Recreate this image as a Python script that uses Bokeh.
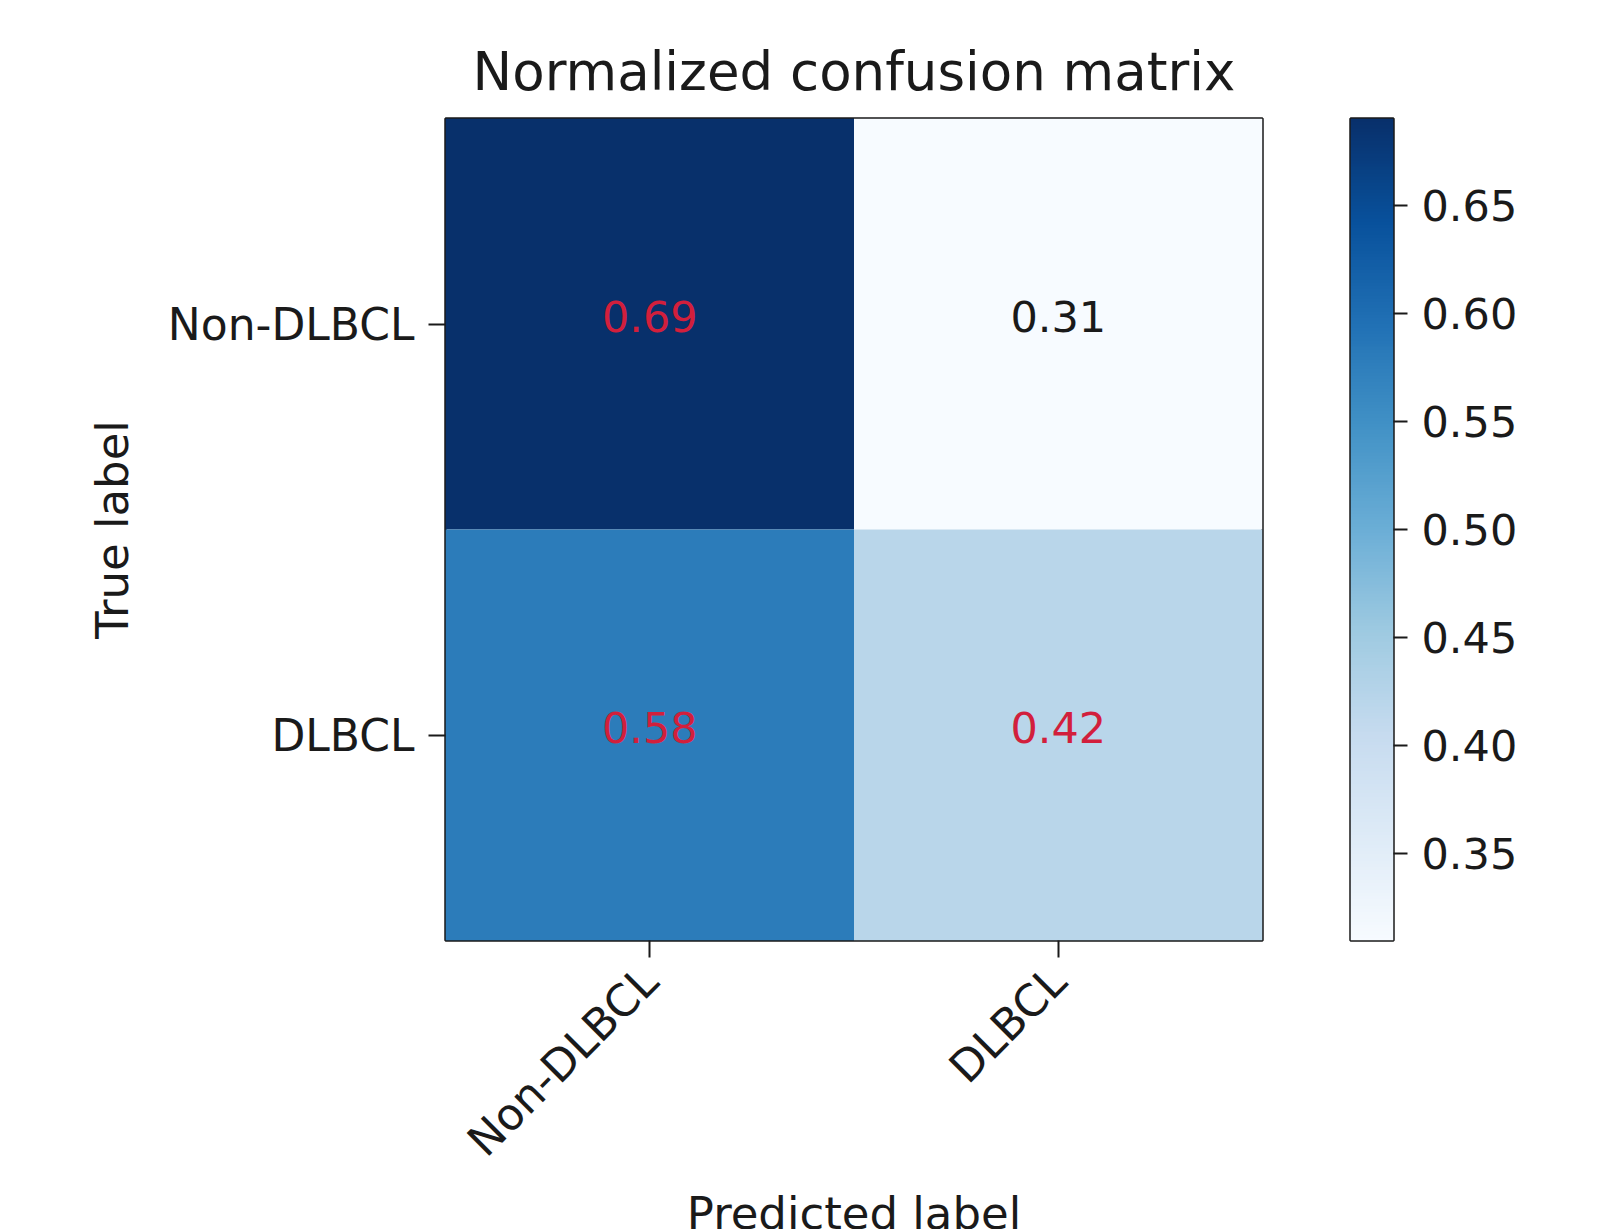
import math
import numpy as np
from bokeh.plotting import figure
from bokeh.layouts import row
from bokeh.models import (FactorRange, ColumnDataSource, LinearColorMapper, Range1d,
                          SingleIntervalTicker, NumeralTickFormatter)
from bokeh.palettes import Blues256
from bokeh.embed import file_html
from bokeh.resources import INLINE
from bokeh.core.properties import value

# ---- data ----
pred_labels = ["Non-DLBCL", "DLBCL"]
true_labels = ["Non-DLBCL", "DLBCL"]
matrix = [[0.69, 0.31],
          [0.58, 0.42]]
cbar_ticks_interval = 0.05

FONT = "DejaVu Sans"
INK = "#1a1a1a"

xs, ys, vals, txt, tcol = [], [], [], [], []
for i, t in enumerate(true_labels):
    for j, pl in enumerate(pred_labels):
        v = matrix[i][j]
        xs.append(pl)
        ys.append(t)
        vals.append(v)
        txt.append(f"{v:.2f}")
        tcol.append("#d21f3c" if v > 0.4 else INK)

src = ColumnDataSource(dict(x=xs, y=ys, v=vals, t=txt, c=tcol))

flat = [v for row_ in matrix for v in row_]
vmin, vmax = min(flat), max(flat)
mapper = LinearColorMapper(palette=list(reversed(Blues256)), low=vmin, high=vmax)

TOP = 118
FH = 822

p = figure(x_range=FactorRange(factors=pred_labels, range_padding=0),
           y_range=FactorRange(factors=list(reversed(true_labels)), range_padding=0),
           frame_width=817, frame_height=FH,
           min_border_left=445, min_border_top=TOP, min_border_right=3, min_border_bottom=262,
           output_backend="svg", toolbar_location=None,
           title="Normalized confusion matrix")

p.rect(x="x", y="y", width=1, height=1, source=src,
       fill_color={"field": "v", "transform": mapper}, line_color=None)
p.text(x="x", y="y", text="t", source=src, text_color="c", y_offset=-8,
       text_font=value(FONT), text_font_size="43px",
       text_align="center", text_baseline="middle")

p.title.text_font = FONT
p.title.text_font_size = "53px"
p.title.text_font_style = "normal"
p.title.align = "center"
p.title.text_color = INK
p.title.standoff = 33

p.outline_line_color = INK
p.outline_line_width = 2.5
p.xgrid.grid_line_color = None
p.ygrid.grid_line_color = None
p.background_fill_color = "white"
p.border_fill_color = "white"

for ax in (p.xaxis[0], p.yaxis[0]):
    ax.axis_line_color = None
    ax.major_tick_in = 0
    ax.major_tick_out = 17
    ax.major_tick_line_width = 2
    ax.major_tick_line_color = INK
    ax.major_label_text_font = FONT
    ax.major_label_text_font_size = "44px"
    ax.major_label_text_color = INK
    ax.axis_label_text_font = FONT
    ax.axis_label_text_font_size = "45px"
    ax.axis_label_text_font_style = "normal"
    ax.axis_label_text_color = INK

p.xaxis.major_label_orientation = math.pi / 4
p.xaxis.major_label_standoff = 16
p.xaxis.axis_label = "Predicted label"
p.xaxis.axis_label_standoff = 0
p.yaxis.major_label_standoff = 14
p.yaxis.axis_label = "True label"
p.yaxis.axis_label_standoff = 26

# ---- colour bar as its own narrow figure ----
cb = figure(x_range=Range1d(0, 1), y_range=Range1d(vmin, vmax),
            frame_width=43, frame_height=FH,
            min_border_left=85, min_border_top=TOP, min_border_right=160, min_border_bottom=40,
            y_axis_location="right",
            output_backend="svg", toolbar_location=None)
grad = np.linspace(vmin, vmax, 256).reshape(256, 1)
cb.image(image=[grad], x=0, y=vmin, dw=1, dh=vmax - vmin, color_mapper=mapper)
cb.xaxis.visible = False
cb.xgrid.grid_line_color = None
cb.ygrid.grid_line_color = None
cb.outline_line_color = INK
cb.outline_line_width = 2.5
cb.background_fill_color = "white"
cb.border_fill_color = "white"
ya = cb.yaxis[0]
ya.ticker = SingleIntervalTicker(interval=cbar_ticks_interval)
ya.formatter = NumeralTickFormatter(format="0.00")
ya.axis_line_color = None
ya.major_tick_in = 0
ya.major_tick_out = 14
ya.major_tick_line_width = 2
ya.major_tick_line_color = INK
ya.minor_tick_line_color = None
ya.major_label_standoff = 14
ya.major_label_text_font = FONT
ya.major_label_text_font_size = "43px"
ya.major_label_text_color = INK

layout = row(p, cb)
open("out.html", "w").write(file_html(layout, INLINE))
